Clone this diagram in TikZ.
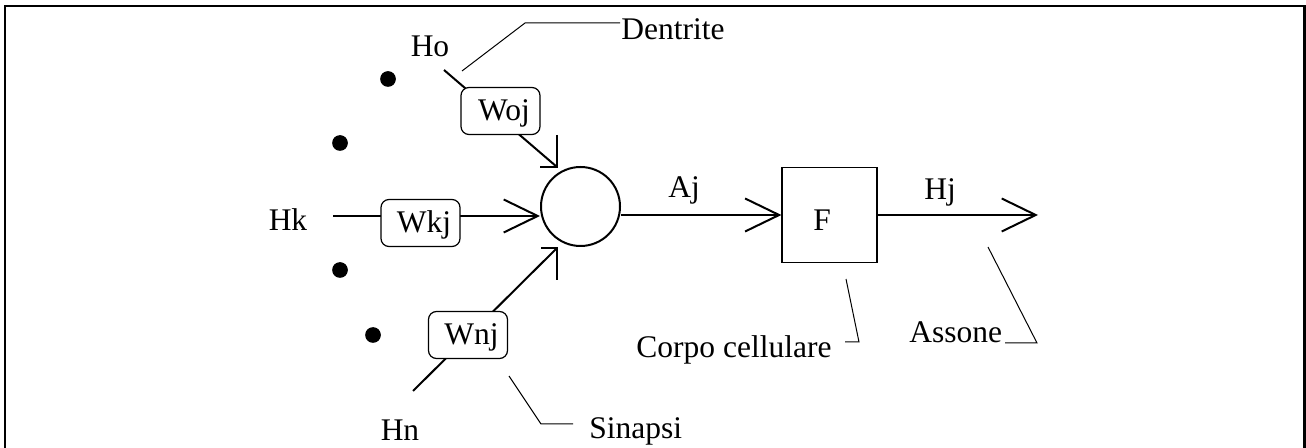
\documentclass[tikz,border=0pt]{standalone}
\usepackage{fontspec}
\setmainfont{Liberation Serif}
\usetikzlibrary{arrows.meta}
\begin{document}
\begin{tikzpicture}[x=0.5pt,y=-0.5pt,
  every node/.style={font=\fontsize{15.75pt}{19pt}\selectfont},
  wire/.style={line width=1pt},
  leader/.style={line width=0.5pt},
  openhead/.style={-{Straight Barb[length=17pt,width=16.5pt]}},
  wbox/.style={draw,line width=0.6pt,rounded corners=4pt,fill=white,
    minimum width=39.5pt,minimum height=23.5pt,inner sep=0pt,
    text height=9.5pt,text depth=0pt},
  blackdot/.style={circle,fill,inner sep=0pt,minimum size=7.85pt},
  lbl/.style={inner sep=0pt,anchor=base}]

\useasboundingbox (0,0) rectangle (1306,448);
\clip (0,0) rectangle (1306,448);

% outer frame (open at the bottom edge of the page)
\draw[line width=1.25pt] (5,470) -- (5,6) -- (1304.5,6) -- (1304.5,470);

% text labels
\node[lbl] (ho) at (430,57) {Ho};
\node[lbl,anchor=base west] (dentrite) at (621,40) {Dentrite};
\node[lbl] (hk) at (288,231) {Hk};
\node[lbl] (hn) at (400,440) {Hn};
\node[lbl,anchor=base west] (sinapsi) at (589,438) {Sinapsi};
\node[lbl,anchor=base west] (corpo) at (636,358) {Corpo cellulare};
\node[lbl,anchor=base west] (assone) at (909,343) {Assone};
\node[lbl] (aj) at (684,198) {Aj};
\node[lbl] (hj) at (940,200) {Hj};

% dots for the omitted inputs
\node[blackdot] (d1) at (388,79) {};
\node[blackdot] (d2) at (340,143) {};
\node[blackdot] (d3) at (340,270) {};
\node[blackdot] (d4) at (373,335) {};

% summing neuron and activation block
\node[circle,draw,line width=1pt,minimum size=39.5pt,inner sep=0pt] (neuron) at (580.5,206.5) {};
\node[draw,line width=0.6pt,minimum size=47.5pt,inner sep=0pt,
  text height=16pt,text depth=0pt] (fbox) at (829.5,215) {F\hspace*{7.5pt}};

% input Ho through weight Woj
\coordinate (hoEnd) at (444,70);
\coordinate (ojTip) at (557,167);
\draw[wire] (hoEnd) -- (ojTip);
\draw[wire] (ojTip) ++(0,-32) -- (ojTip) -- ++(-17,0);
\node[wbox] (woj) at (500.5,111) {\hspace*{3.5pt}Woj};

% input Hk through weight Wkj
\coordinate (hkEnd) at (333,216);
\draw[wire,openhead] (hkEnd) -- (hkEnd -| neuron.west);
\node[wbox] (wkj) at (420.5,223) {\hspace*{3.5pt}Wkj};

% input Hn through weight Wnj
\coordinate (hnEnd) at (413,391);
\coordinate (njTip) at (557,248);
\draw[wire] (hnEnd) -- (njTip);
\draw[wire] (njTip) ++(-16,0) -- (njTip) -- ++(0,32);
\node[wbox] (wnj) at (468,335) {\hspace*{3.5pt}Wnj};

% activation Aj and output Hj
\draw[wire,openhead] (neuron.east |- fbox.west) -- (fbox.west);
\coordinate (hjTip) at (1038,215);
\draw[wire,openhead] (fbox.east) -- (hjTip);

% leader lines for the captions
\coordinate (dA) at (462,71);
\coordinate (dB) at (525,23);
\coordinate (dC) at (620,23);
\draw[leader] (dA) -- (dB) -- (dC);

\coordinate (sA) at (509,376);
\coordinate (sB) at (541,424);
\coordinate (sC) at (573,424);
\draw[leader] (sA) -- (sB) -- (sC);

\coordinate (cA) at (846,279);
\coordinate (cB) at (859,342);
\coordinate (cC) at (845,342);
\draw[leader] (cA) -- (cB) -- (cC);

\coordinate (aA) at (988,247);
\coordinate (aB) at (1037,343);
\coordinate (aC) at (1005,343);
\draw[leader] (aA) -- (aB) -- (aC);
\end{tikzpicture}
\end{document}
